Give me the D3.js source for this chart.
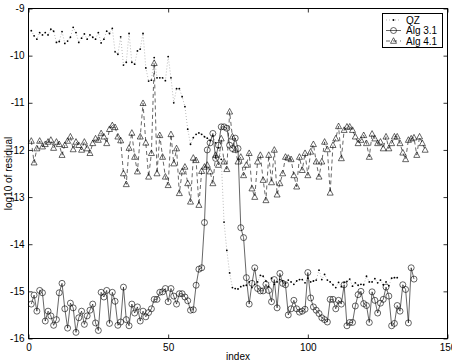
<!DOCTYPE html>
<html>
<head>
<meta charset="utf-8">
<script src="https://cdn.jsdelivr.net/npm/d3@7"></script>
<style>
  body { margin: 0; background: #fff; }
  text { font-family: "Liberation Sans", Arial, Helvetica, sans-serif; }
</style>
</head>
<body>
<div id="chart"></div>
<script>
// residuals, log10, one value per index starting at 1
const qz = [
  -9.47, -9.58, -9.65, -9.51, -9.56, -9.51, -9.56, -9.44, -9.48, -9.72,
  -9.70, -9.49, -9.74, -9.69, -9.61, -9.40, -9.51, -9.72, -9.63, -9.54,
  -9.65, -9.56, -9.61, -9.65, -9.51, -9.73, -9.65, -9.48, -9.53, -9.42,
  -9.92, -9.97, -9.60, -10.20, -10.14, -9.53, -10.14, -10.18, -9.90, -9.86,
  -9.53, -10.26, -10.54, -10.52, -10.04, -10.47, -10.47, -10.47, -10.53, -10.02,
  -10.47, -11.00, -10.70, -10.70, -10.87, -11.08, -11.56, -11.88, -11.74, -11.67,
  -11.64, -11.67, -11.72, -11.75, -11.80, -11.70, -11.85, -11.95, -12.20, -13.53,
  -14.13, -14.61, -14.92, -14.94, -14.95, -14.90, -14.88, -14.87, -14.80, -14.92,
  -14.85, -14.80, -14.66, -14.68, -14.78, -14.90, -14.72, -14.85, -14.80, -14.75,
  -14.78, -14.83, -14.76, -14.80, -14.85, -14.78, -14.75, -14.75, -14.82, -14.72,
  -14.80, -14.78, -14.76, -14.55, -14.75, -14.64, -14.76, -14.80, -14.86, -14.92,
  -14.81, -14.90, -14.81, -14.79, -14.74, -14.89, -14.82, -14.87, -14.85, -14.86,
  -14.68, -14.80, -14.80, -14.73, -14.82, -14.76, -14.86, -14.80, -14.88, -14.72,
  -14.71, -14.71
]

const alg31 = [
  -15.27, -15.08, -15.42, -14.98, -15.03, -15.63, -15.42, -15.52, -15.72, -15.60,
  -15.03, -14.83, -15.37, -15.78, -15.25, -15.35, -15.87, -15.56, -15.42, -15.70,
  -15.52, -15.40, -15.27, -15.67, -15.83, -15.02, -15.12, -14.98, -15.68, -15.02,
  -15.21, -15.72, -15.65, -14.91, -15.60, -15.73, -15.27, -15.46, -15.33, -15.63,
  -15.42, -15.54, -15.45, -15.37, -15.17, -15.17, -15.02, -15.01, -14.94, -15.22,
  -14.94, -15.10, -15.27, -15.05, -15.05, -15.12, -15.20, -15.40, -15.39, -14.87,
  -14.53, -14.50, -13.54, -12.00, -11.85, -11.65, -12.18, -11.90, -11.51, -11.51,
  -11.54, -11.90, -11.97, -11.75, -11.97, -13.65, -13.86, -14.71, -15.27, -14.83,
  -14.50, -14.94, -14.99, -14.99, -14.85, -14.98, -15.22, -14.75, -15.35, -14.62,
  -14.83, -14.86, -15.50, -15.37, -15.19, -15.37, -15.44, -15.42, -15.38, -14.60,
  -15.14, -15.33, -15.40, -15.47, -15.56, -15.60, -15.65, -15.17, -15.17, -15.37,
  -15.19, -15.27, -14.86, -15.73, -15.66, -15.66, -15.31, -15.07, -15.00, -15.26,
  -15.30, -15.66, -15.01, -15.19, -15.46, -15.25, -15.17, -14.91, -15.10, -15.73,
  -15.68, -15.30, -15.42, -14.86, -14.96, -15.67, -14.50, -14.74
]

const alg41 = [
  -11.81, -12.27, -11.97, -11.81, -11.93, -11.88, -11.83, -11.79, -11.96, -11.83,
  -11.88, -12.11, -11.90, -11.81, -11.72, -11.99, -11.83, -11.90, -12.00, -11.83,
  -11.97, -12.07, -11.86, -11.76, -11.79, -11.65, -11.72, -11.86, -11.56, -11.48,
  -11.52, -11.72, -11.80, -12.50, -12.73, -11.96, -11.64, -12.15, -12.46, -11.72,
  -11.01, -11.85, -12.57, -12.07, -10.16, -12.50, -11.69, -12.15, -12.57, -12.75,
  -11.67, -12.29, -11.97, -12.92, -12.46, -12.36, -12.71, -13.10, -12.17, -12.22,
  -13.17, -12.45, -12.36, -12.32, -12.46, -12.71, -12.11, -12.32, -11.76, -12.25,
  -12.41, -11.19, -11.72, -12.00, -12.25, -12.15, -12.54, -12.32, -12.07, -12.82,
  -13.00, -12.25, -12.11, -12.64, -13.07, -12.11, -12.69, -12.00, -12.95, -12.71,
  -12.50, -12.15, -12.17, -12.20, -12.54, -12.78, -12.15, -12.43, -12.07, -12.54,
  -12.04, -11.88, -12.25, -12.57, -12.25, -11.83, -11.99, -12.91, -11.90, -11.76,
  -11.50, -12.18, -11.58, -11.51, -11.51, -11.58, -11.72, -11.86, -11.79, -11.69,
  -11.86, -12.15, -11.66, -11.76, -11.86, -11.83, -11.97, -11.72, -11.97, -11.86,
  -11.72, -11.72, -11.86, -12.06, -12.20, -11.79, -11.76, -11.74, -12.11, -11.72,
  -11.86, -12.00
]

const seriesNames = ["QZ", "Alg 3.1", "Alg 4.1"]
const xTicks = [0, 50, 100, 150]
const yTicks = [-16, -15, -14, -13, -12, -11, -10, -9]

const width = 452,
    height = 363
const margin = ({ top: 8.5, right: 4.5, bottom: 24.5, left: 28.5 })

const x = d3.scaleLinear()
    .domain([0, 150])
    .range([margin.left, width - margin.right])

const y = d3.scaleLinear()
    .domain([-16, -9])
    .range([height - margin.bottom, margin.top])

const svg = d3.select("#chart").append("svg")
    .attr("width", width)
    .attr("height", height)

// plain hyphen minus, like the original
const fmt = d => String(d)

// axes, ticks pointing inward on all four sides
svg.append("g")
    .attr("transform", `translate(0,${height - margin.bottom})`)
    .call(d3.axisBottom(x).tickValues(xTicks).tickSizeInner(-4).tickSizeOuter(0).tickPadding(5).tickFormat(fmt))
svg.append("g")
    .attr("transform", `translate(0,${margin.top})`)
    .call(d3.axisTop(x).tickValues(xTicks).tickSizeInner(-4).tickSizeOuter(0).tickFormat(""))
svg.append("g")
    .attr("transform", `translate(${margin.left},0)`)
    .call(d3.axisLeft(y).tickValues(yTicks).tickSizeInner(-4).tickSizeOuter(0).tickPadding(4).tickFormat(fmt))
svg.append("g")
    .attr("transform", `translate(${width - margin.right},0)`)
    .call(d3.axisRight(y).tickValues(yTicks).tickSizeInner(-4).tickSizeOuter(0).tickFormat(""))

svg.selectAll(".domain").remove()
svg.selectAll(".tick line").attr("stroke", "#000").attr("stroke-width", 0.8)
svg.selectAll(".tick text").attr("font-size", 10).attr("fill", "#000")
    .attr("font-family", '"Liberation Sans", Arial, Helvetica, sans-serif')

svg.append("rect")
    .attr("x", margin.left)
    .attr("y", margin.top)
    .attr("width", width - margin.left - margin.right)
    .attr("height", height - margin.top - margin.bottom)
    .attr("fill", "none")
    .attr("stroke", "#000")
    .attr("stroke-width", 1)

// axis titles
svg.append("text")
    .attr("x", (margin.left + width - margin.right) / 2)
    .attr("y", 360)
    .attr("text-anchor", "middle")
    .attr("font-size", 10)
    .text("index")

svg.append("text")
    .attr("transform", `translate(12,${(margin.top + height - margin.bottom) / 2}) rotate(-90)`)
    .attr("text-anchor", "middle")
    .attr("font-size", 10)
    .text("log10 of residual")

const line = d3.line()
    .x((d, i) => x(i + 1))
    .y(d => y(d))

const tri = "M0,-3.3L3,2.3L-3,2.3Z"

// QZ: dotted with point markers
svg.append("path")
    .datum(qz)
    .attr("d", line)
    .attr("fill", "none")
    .attr("stroke", "#555")
    .attr("stroke-width", 0.5)
    .attr("stroke-dasharray", "0.8,2.2")
svg.append("g").selectAll("circle")
    .data(qz)
    .join("circle")
    .attr("cx", (d, i) => x(i + 1))
    .attr("cy", d => y(d))
    .attr("r", 0.9)
    .attr("fill", "#000")

// Alg 3.1: solid with circles
svg.append("path")
    .datum(alg31)
    .attr("d", line)
    .attr("fill", "none")
    .attr("stroke", "#000")
    .attr("stroke-width", 0.6)
svg.append("g").selectAll("circle")
    .data(alg31)
    .join("circle")
    .attr("cx", (d, i) => x(i + 1))
    .attr("cy", d => y(d))
    .attr("r", 3)
    .attr("fill", "none")
    .attr("stroke", "#000")
    .attr("stroke-width", 0.6)

// Alg 4.1: dashed with triangles
svg.append("path")
    .datum(alg41)
    .attr("d", line)
    .attr("fill", "none")
    .attr("stroke", "#000")
    .attr("stroke-width", 0.6)
    .attr("stroke-dasharray", "4,3")
svg.append("g").selectAll("path")
    .data(alg41)
    .join("path")
    .attr("d", tri)
    .attr("transform", (d, i) => `translate(${x(i + 1)},${y(d)})`)
    .attr("fill", "none")
    .attr("stroke", "#000")
    .attr("stroke-width", 0.6)

// legend
const legend = svg.append("g").attr("transform", "translate(382.5,13.5)")
legend.append("rect")
    .attr("width", 60)
    .attr("height", 34)
    .attr("fill", "#fff")
    .attr("stroke", "#000")
    .attr("stroke-width", 1)

const dashes = ["0.8,2.2", null, "4,3"]
seriesNames.forEach((name, k) => {
    const ly = 6.5 + k * 10.5
    legend.append("line")
        .attr("x1", 3.5).attr("x2", 18.5)
        .attr("y1", ly).attr("y2", ly)
        .attr("stroke", k === 0 ? "#555" : "#000")
        .attr("stroke-width", k === 0 ? 0.5 : 0.6)
        .attr("stroke-dasharray", dashes[k])
    if (k === 0) {
        legend.append("circle").attr("cx", 11).attr("cy", ly).attr("r", 0.9).attr("fill", "#000")
    } else if (k === 1) {
        legend.append("circle").attr("cx", 11).attr("cy", ly).attr("r", 3)
            .attr("fill", "none").attr("stroke", "#000").attr("stroke-width", 0.6)
    } else {
        legend.append("path").attr("d", tri).attr("transform", `translate(11,${ly})`)
            .attr("fill", "none").attr("stroke", "#000").attr("stroke-width", 0.6)
    }
    legend.append("text")
        .attr("x", 23.5)
        .attr("y", ly + 3.5)
        .attr("font-size", 10)
        .text(name)
})
</script>
</body>
</html>
